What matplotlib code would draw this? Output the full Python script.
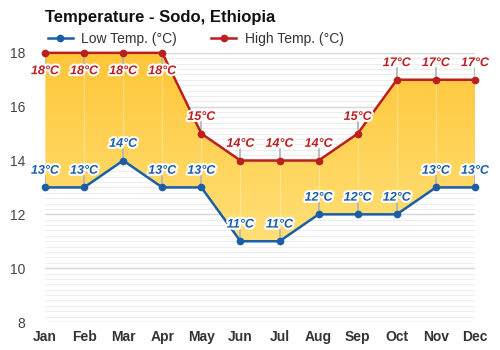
import numpy as np
import matplotlib
matplotlib.use('Agg')
import matplotlib.pyplot as plt
import matplotlib.patheffects as pe
from matplotlib.colors import LinearSegmentedColormap
from matplotlib.patches import Polygon

plt.rcParams['font.family'] = ['Liberation Sans', 'DejaVu Sans']

months = ['Jan', 'Feb', 'Mar', 'Apr', 'May', 'Jun', 'Jul', 'Aug', 'Sep', 'Oct', 'Nov', 'Dec']
low_temp = [13, 13, 14, 13, 13, 11, 11, 12, 12, 12, 13, 13]
high_temp = [18, 18, 18, 18, 15, 14, 14, 14, 15, 17, 17, 17]

low_color = '#1a5ea8'
high_color = '#bb1f1f'

fig = plt.figure(figsize=(5, 3.5), dpi=100)
ax = fig.add_axes([0.09, 0.08, 0.86, 0.769])
x = np.arange(len(months))

# grid
ax.set_ylim(8, 18)
ax.set_xlim(0, 11)
for yv in np.arange(8, 18.01, 0.2):
    major = abs(yv - round(yv / 2) * 2) < 1e-6
    ax.axhline(yv, color='#d6d6d6' if major else '#ededed', lw=1.0 if major else 0.7, zorder=0)

# gradient fill between low and high
cmap = LinearSegmentedColormap.from_list('fill', ['#ffe27c', '#ffc638'])
grad = np.linspace(0, 1, 256).reshape(-1, 1)
im = ax.imshow(grad, cmap=cmap, extent=[0, 11, 10.5, 18], origin='lower',
               aspect='auto', zorder=1)
verts = list(zip(x, high_temp)) + list(zip(x[::-1], low_temp[::-1]))
poly = Polygon(verts, closed=True, facecolor='none', edgecolor='none')
ax.add_patch(poly)
im.set_clip_path(poly)
for xi in x:
    ax.plot([xi, xi], [low_temp[xi], high_temp[xi]], color='white', alpha=0.35, lw=0.8, zorder=2)

ax.plot(x, low_temp, color=low_color, lw=1.8, marker='o', ms=4.5, zorder=4, label='Low Temp. (°C)', clip_on=False)
ax.plot(x, high_temp, color=high_color, lw=1.8, marker='o', ms=4.5, zorder=4, label='High Temp. (°C)', clip_on=False)

stroke = [pe.withStroke(linewidth=3, foreground='white')]
off = 0.62
for xi in x:
    # low labels above
    ly = low_temp[xi] + off
    ax.plot([xi, xi], [low_temp[xi], ly - 0.2], color='#b0b0b0', lw=1.2, zorder=3)
    ax.text(xi, ly, f'{low_temp[xi]}°C', color=low_color, fontsize=9, fontweight='bold',
            fontstyle='italic', ha='center', va='center', zorder=6, path_effects=stroke)
    # high labels
    if high_temp[xi] >= 18:
        hy = high_temp[xi] - 0.68
        ax.plot([xi, xi], [high_temp[xi], hy + 0.2], color='#b0b0b0', lw=1.2, zorder=3)
    else:
        hy = high_temp[xi] + off
        ax.plot([xi, xi], [high_temp[xi], hy - 0.2], color='#b0b0b0', lw=1.2, zorder=3)
    ax.text(xi, hy, f'{high_temp[xi]}°C', color=high_color, fontsize=9, fontweight='bold',
            fontstyle='italic', ha='center', va='center', zorder=6, path_effects=stroke)

ax.set_xticks(x)
ax.set_xticklabels(months, fontweight='bold', fontsize=10, color='#333333')
ax.set_yticks([8, 10, 12, 14, 16, 18])
ax.tick_params(axis='y', labelsize=10, colors='#444444', length=0, pad=14)
ax.tick_params(axis='x', length=0, pad=6)
for s in ax.spines.values():
    s.set_visible(False)

fig.text(0.09, 0.95, 'Temperature - Sodo, Ethiopia', fontsize=12, fontweight='bold',
         color='#111111', ha='left', va='center')
ax.legend(loc='lower left', bbox_to_anchor=(-0.01, 1.0), ncol=2, frameon=False,
          fontsize=10, handlelength=1.8, columnspacing=2.5, handletextpad=0.6,
          labelcolor='#333333', borderaxespad=0.1)

fig.savefig('out.png', dpi=100)
